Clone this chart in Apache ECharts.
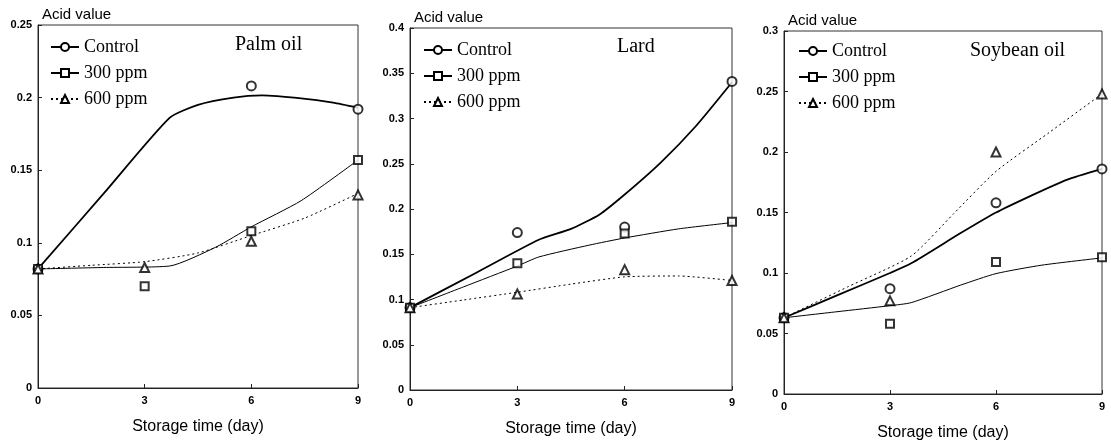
<!DOCTYPE html>
<html>
<head>
<meta charset="utf-8">
<title>Acid value</title>
<script src="https://cdn.jsdelivr.net/npm/echarts@6/dist/echarts.min.js"></script>
<style>
  html, body { margin: 0; padding: 0; background: #fff; }
  #chart { width: 1111px; height: 442px; }
</style>
</head>
<body>
<div id="chart"></div>
<script>
// measured points, storage day 0 / 3 / 6 / 9
var days = [0, 3, 6, 9]
var seriesNames = ['Control', '300 ppm', '600 ppm']
var panelTitles = ['Palm oil', 'Lard', 'Soybean oil']
var yMax = [0.25, 0.4, 0.3]

var palmControl = [0.082, null, 0.208, 0.192]
var palm300 = [0.082, 0.070, 0.108, 0.157]
var palm600 = [0.082, 0.083, 0.101, 0.133]

var lardControl = [0.091, 0.174, 0.180, 0.341]
var lard300 = [0.091, 0.140, 0.173, 0.186]
var lard600 = [0.091, 0.106, 0.133, 0.121]

var soyControl = [0.063, 0.087, 0.158, 0.186]
var soy300 = [0.063, 0.058, 0.109, 0.113]
var soy600 = [0.063, 0.077, 0.200, 0.248]

// fitted curves as drawn in the figure (day, value)
var palmControlFitDays = [0, 1.85, 3.7, 4.5, 5.5, 6.3, 7.4, 8.3, 9]
var palmControlFit = [0.082, 0.134, 0.186, 0.195, 0.200, 0.2015, 0.1995, 0.1965, 0.193]
var palm300FitDays = [0, 1.85, 3.7, 5, 6, 7.4, 9]
var palm300Fit = [0.082, 0.083, 0.084, 0.097, 0.111, 0.129, 0.157]
var palm600FitDays = [0, 1.5, 3, 4.5, 6, 7.5, 9]
var palm600Fit = [0.082, 0.0845, 0.087, 0.093, 0.105, 0.117, 0.134]

var lardControlFitDays = [0, 1.8, 3.6, 4.5, 5.3, 6, 7, 8, 9]
var lardControlFit = [0.091, 0.1285, 0.166, 0.178, 0.194, 0.216, 0.251, 0.292, 0.340]
var lard300FitDays = [0, 1.5, 3, 3.6, 5, 6, 7.5, 9]
var lard300Fit = [0.091, 0.114, 0.137, 0.147, 0.160, 0.168, 0.178, 0.185]
var lard600FitDays = [0, 1.5, 3, 4.5, 6, 7.5, 9]
var lard600Fit = [0.091, 0.0995, 0.108, 0.117, 0.125, 0.126, 0.121]

var soyControlFitDays = [0, 1.5, 3, 3.6, 5, 6, 7, 8, 9]
var soyControlFit = [0.063, 0.0815, 0.100, 0.108, 0.133, 0.150, 0.164, 0.177, 0.186]
var soy300FitDays = [0, 1.5, 3, 3.6, 5, 6, 7.3, 9]
var soy300Fit = [0.063, 0.068, 0.073, 0.0755, 0.090, 0.0995, 0.1065, 0.1125]
var soy600FitDays = [0, 1.8, 3.6, 4.8, 6, 7.5, 9]
var soy600Fit = [0.063, 0.0885, 0.114, 0.149, 0.184, 0.216, 0.248]

var panels = [
  { points: [palmControl, palm300, palm600],
    fitDays: [palmControlFitDays, palm300FitDays, palm600FitDays],
    fits: [palmControlFit, palm300Fit, palm600Fit] },
  { points: [lardControl, lard300, lard600],
    fitDays: [lardControlFitDays, lard300FitDays, lard600FitDays],
    fits: [lardControlFit, lard300Fit, lard600Fit] },
  { points: [soyControl, soy300, soy600],
    fitDays: [soyControlFitDays, soy300FitDays, soy600FitDays],
    fits: [soyControlFit, soy300Fit, soy600Fit] }
]

var symbols = ['emptyCircle', 'emptyRect', 'emptyTriangle']
var symbolSizes = [9, 8, 9]
var lineWidths = [1.8, 1, 1]
var lineTypes = ['solid', 'solid', [2, 3]]

var grids = [
  { left: 38, top: 25, width: 320, height: 363 },
  { left: 410, top: 28, width: 322, height: 362 },
  { left: 784, top: 31, width: 318, height: 363 }
]
var legendPos = [
  { left: 50, top: 38 },
  { left: 423, top: 41 },
  { left: 798, top: 42 }
]
var titlePos = [
  { left: 235, top: 35 },
  { left: 617, top: 37 },
  { left: 970, top: 41 }
]

function pairs (xs, ys) {
  var out = []
  for (var i = 0; i < xs.length; i++) {
    if (ys[i] !== null) out.push([xs[i], ys[i]])
  }
  return out
}

var sansFont = '"Liberation Sans", Arial, sans-serif'
var serifFont = '"Liberation Serif", "DejaVu Serif", serif'

var option = {
  backgroundColor: '#fff',
  animation: false,
  title: [],
  legend: [],
  grid: [],
  xAxis: [],
  yAxis: [],
  series: []
}

for (var p = 0; p < panels.length; p++) {
  var g = grids[p]
  option.grid.push({
    left: g.left, top: g.top, width: g.width, height: g.height,
    show: true, borderColor: '#333', borderWidth: 1,
    outerBoundsMode: 'none'
  })
  option.title.push({
    text: panelTitles[p],
    left: titlePos[p].left,
    top: titlePos[p].top,
    padding: 0,
    textStyle: { fontFamily: serifFont, fontSize: 20, fontWeight: 'normal', color: '#000' }
  })
  option.legend.push({
    orient: 'vertical',
    left: legendPos[p].left,
    top: legendPos[p].top,
    padding: 0,
    itemWidth: 28,
    itemHeight: 10,
    itemGap: 8,
    itemTextGap: 12,
    selectedMode: false,
    data: seriesNames,
    textStyle: { fontFamily: serifFont, fontSize: 18, lineHeight: 18, color: '#000' }
  })
  option.xAxis.push({
    type: 'value',
    gridIndex: p,
    min: 0,
    max: 9,
    interval: 3,
    name: 'Storage time (day)',
    nameLocation: 'middle',
    nameGap: 31,
    nameTextStyle: { fontFamily: sansFont, fontSize: 16, color: '#000' },
    axisLine: { lineStyle: { color: '#222', width: 1 } },
    axisTick: { inside: true, length: 4, lineStyle: { color: '#222' } },
    axisLabel: { margin: 7, fontFamily: sansFont, fontSize: 11, fontWeight: 'bold', color: '#000' },
    splitLine: { show: false }
  })
  option.yAxis.push({
    type: 'value',
    gridIndex: p,
    min: 0,
    max: yMax[p],
    interval: 0.05,
    name: 'Acid value',
    nameLocation: 'end',
    nameGap: 3,
    nameTextStyle: { fontFamily: sansFont, fontSize: 15, color: '#000', align: 'left', padding: [0, 0, 0, 4] },
    axisLine: { lineStyle: { color: '#222', width: 1 } },
    axisTick: { inside: true, length: 4, lineStyle: { color: '#222' } },
    axisLabel: { margin: 6, fontFamily: sansFont, fontSize: 11, fontWeight: 'bold', color: '#000' },
    splitLine: { show: false }
  })

  var panel = panels[p]
  // fitted lines first so the legend takes its icon from them
  for (var s = 0; s < 3; s++) {
    option.series.push({
      name: seriesNames[s],
      type: 'line',
      xAxisIndex: p,
      yAxisIndex: p,
      data: pairs(panel.fitDays[s], panel.fits[s]),
      smooth: 0.2,
      symbol: symbols[s],
      symbolSize: symbolSizes[s],
      showSymbol: false,
      clip: false,
      itemStyle: { color: '#000' },
      lineStyle: { color: '#000', width: lineWidths[s], type: lineTypes[s] },
      z: 2
    })
  }
  for (var s = 0; s < 3; s++) {
    option.series.push({
      name: seriesNames[s],
      type: 'scatter',
      xAxisIndex: p,
      yAxisIndex: p,
      data: pairs(days, panel.points[s]),
      symbol: symbols[s],
      symbolSize: symbolSizes[s],
      clip: false,
      itemStyle: { color: '#000', borderColor: '#000', borderWidth: 1 },
      z: 3
    })
  }
}

var chart = echarts.init(document.getElementById('chart'))
chart.setOption(option)
</script>
</body>
</html>
